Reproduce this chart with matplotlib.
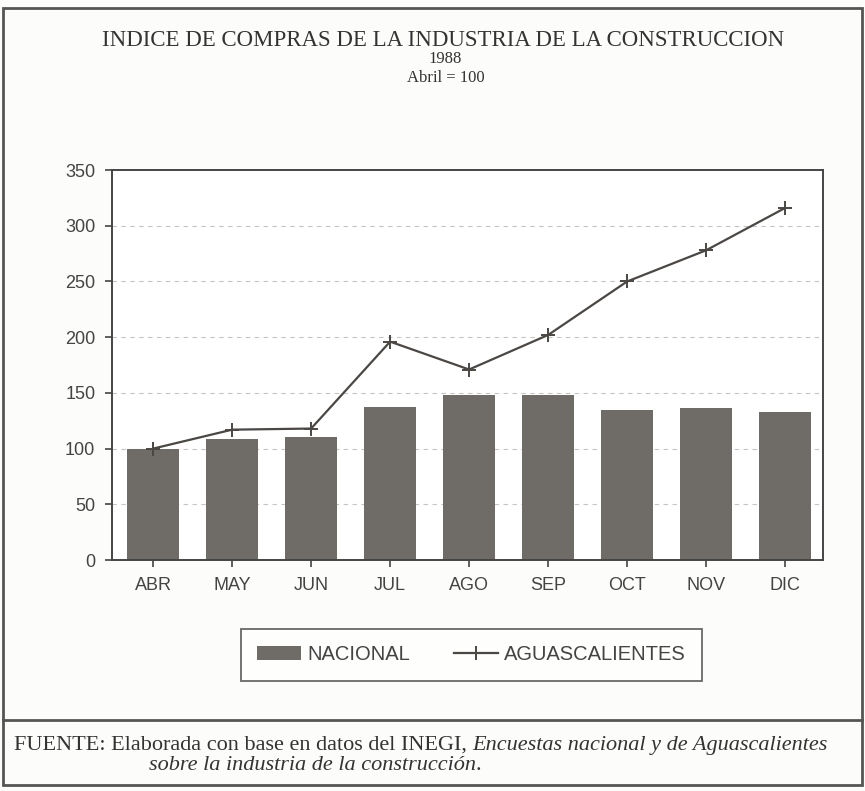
import matplotlib.pyplot as plt
from matplotlib.patches import Rectangle
from matplotlib.lines import Line2D

# ---- datos ----
meses = ["ABR", "MAY", "JUN", "JUL", "AGO", "SEP", "OCT", "NOV", "DIC"]
nacional = [100, 109, 110, 137, 148, 148, 135, 136, 133]
aguascalientes = [100, 117, 118, 196, 171, 202, 250, 278, 316]
yticks = [0, 50, 100, 150, 200, 250, 300, 350]

color_barra = "#6f6b67"
color_linea = "#4a4744"
papel = "#fcfcfa"

fig = plt.figure(figsize=(8.65, 7.91), dpi=100, facecolor=papel)

# marco exterior y linea del pie
fig.add_artist(Rectangle((0.004, 0.008), 0.992, 0.982, transform=fig.transFigure,
                         fill=False, edgecolor="#555", linewidth=2))
fig.add_artist(Line2D([0.004, 0.996], [0.09, 0.09], transform=fig.transFigure,
                      color="#555", linewidth=2))

# titulo
fig.text(0.512, 0.949, "INDICE DE COMPRAS DE LA INDUSTRIA DE LA CONSTRUCCION",
         ha="center", va="center", family="Liberation Serif", fontsize=16.5, color="#333")
fig.text(0.515, 0.926, "1988", ha="center", va="center",
         family="Liberation Serif", fontsize=12, color="#333")
fig.text(0.515, 0.901, "Abril = 100", ha="center", va="center",
         family="Liberation Serif", fontsize=12, color="#333")

ax = fig.add_axes([0.1295, 0.292, 0.822, 0.493])
ax.set_facecolor("white")
x = range(len(meses))

barras = ax.bar(x, nacional, width=0.66, color=color_barra, zorder=2)
linea, = ax.plot(x, aguascalientes, color=color_linea, linewidth=1.6, marker="+",
                 markersize=10, markeredgewidth=1.4, zorder=3)

ax.set_xlim(-0.52, 8.48)
ax.set_ylim(0, 350)
ax.set_yticks(yticks)
ax.set_xticks(list(x))
ax.set_xticklabels(meses)
for v in yticks[1:-1]:
    ax.axhline(v, color="#c4c4c4", linestyle=(0, (4, 4)), linewidth=0.8, zorder=1)

for s in ax.spines.values():
    s.set_color("#444")
    s.set_linewidth(1.4)
ax.tick_params(direction="out", length=5, width=1.2, color="#444",
               labelsize=13, labelcolor="#444", pad=7)
for lab in ax.get_xticklabels() + ax.get_yticklabels():
    lab.set_family("Liberation Sans")

leg = fig.legend([barras, linea], ["NACIONAL", "AGUASCALIENTES"],
                 loc="center", bbox_to_anchor=(0.545, 0.172), ncol=2,
                 prop={"family": "Liberation Sans", "size": 14.5},
                 frameon=True, fancybox=False, edgecolor="#444",
                 borderpad=0.8, handlelength=2.2, columnspacing=2.2,
                 handletextpad=0.3, borderaxespad=0)
leg.get_frame().set_linewidth(1.3)
for t in leg.get_texts():
    t.set_color("#444")

# pie de pagina (texto normal + cursiva)
fig.canvas.draw()
r = fig.canvas.get_renderer()
t1 = fig.text(0.016, 0.058, "FUENTE: Elaborada con base en datos del INEGI, ",
              family="Liberation Serif", fontsize=16, color="#333", va="center")
bb = t1.get_window_extent(renderer=r)
fig.text(bb.x1 / fig.bbox.width, 0.058,
         "Encuestas nacional y de Aguascalientes",
         family="Liberation Serif", style="italic", fontsize=16, color="#333", va="center")
t2 = fig.text(0.172, 0.032, "sobre la industria de la construcción",
              family="Liberation Serif", style="italic", fontsize=16, color="#333", va="center")
bb2 = t2.get_window_extent(renderer=r)
fig.text(bb2.x1 / fig.bbox.width, 0.032, ".",
         family="Liberation Serif", fontsize=16, color="#333", va="center")

fig.savefig("out.png", dpi=100, facecolor=papel)
